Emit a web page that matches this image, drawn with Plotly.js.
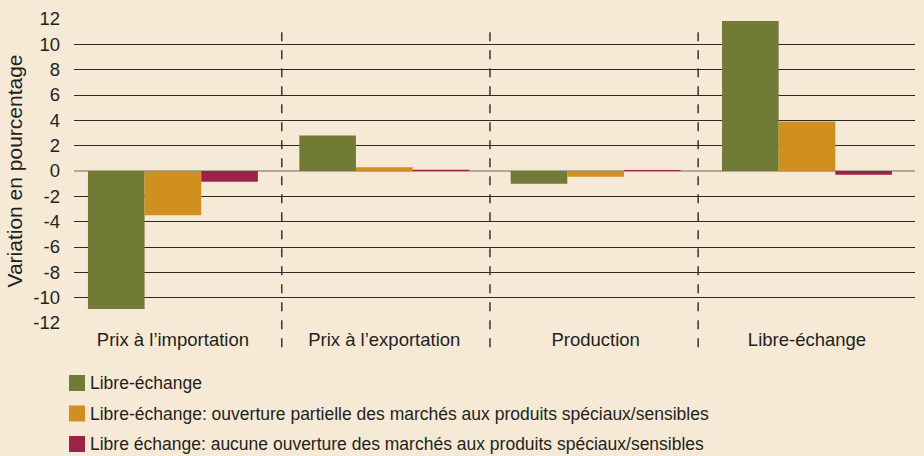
<!DOCTYPE html>
<html>
<head>
<meta charset="utf-8">
<script src="https://cdn.plot.ly/plotly-3.0.1.min.js"></script>
<style>html,body{margin:0;padding:0;background:#f6e9d5;}#chart{width:924px;height:456px;}</style>
</head>
<body>
<div id="chart"></div>
<script>
const categories = ["Prix à l’importation", "Prix à l’exportation", "Production", "Libre-échange"];
const seriesNames = [
  "Libre-échange",
  "Libre-échange: ouverture partielle des marchés aux produits spéciaux/sensibles",
  "Libre échange: aucune ouverture des marchés aux produits spéciaux/sensibles"
];
const libreEchange = [-10.9, 2.8, -1.0, 11.85];
const ouverturePartielle = [-3.5, 0.3, -0.45, 3.9];
const aucuneOuverture = [-0.85, 0.1, 0.08, -0.3];
const yTicks = [-12, -10, -8, -6, -4, -2, 0, 2, 4, 6, 8, 10, 12];
const colors = ["#727b35", "#d09020", "#9b2248"];

const W = 924, H = 456;
const M = {l: 74, r: 9, t: 19, b: 133};
const plotW = W - M.l - M.r, plotH = H - M.t - M.b;

const xIdx = categories.map((c, i) => i);
const allSeries = [libreEchange, ouverturePartielle, aucuneOuverture];
const traces = allSeries.map((vals, k) => ({
  type: "bar",
  x: xIdx,
  y: vals,
  name: seriesNames[k],
  showlegend: false,
  marker: {color: colors[k], line: {width: 0}},
  hoverinfo: "y+name"
}));

const sepColor = "#3a3530";
const shapes = [0.515, 1.5, 2.485].map(xv => ({
  type: "line", xref: "x", yref: "paper", x0: xv, x1: xv, y0: -0.08, y1: 0.985,
  line: {color: sepColor, width: 1.5, dash: "dash"}
}));

// legend drawn as swatches + text below the plot
const legendTop = 375, legendStep = 30.5, sw = 16, legendX = 69;
const px2x = p => (p - M.l) / plotW;
const py2y = p => (H - M.b - p) / plotH;
const annotations = [];
seriesNames.forEach((n, k) => {
  const top = legendTop + k * legendStep;
  shapes.push({
    type: "rect", xref: "paper", yref: "paper",
    x0: px2x(legendX), x1: px2x(legendX + sw), y0: py2y(top + sw), y1: py2y(top),
    fillcolor: colors[k], line: {width: 0}
  });
  annotations.push({
    xref: "paper", yref: "paper", x: px2x(legendX + sw + 3), y: py2y(top + sw / 2),
    xanchor: "left", yanchor: "middle", showarrow: false, text: n,
    font: {size: 17.5, color: "#231f20"}
  });
});

const layout = {
  width: W, height: H,
  paper_bgcolor: "#f6e9d5", plot_bgcolor: "#f6e9d5",
  font: {family: "Liberation Sans, Arial, sans-serif", size: 18, color: "#231f20"},
  margin: M,
  barmode: "group", bargap: 0.196, bargroupgap: 0,
  xaxis: {
    range: [-0.468, 3.511],
    tickvals: xIdx, ticktext: categories, automargin: false,
    showgrid: false, zeroline: false, showline: false, ticks: "",
    tickfont: {size: 18.5}, ticklabelstandoff: 3, fixedrange: true
  },
  yaxis: {
    range: [-12, 12], tickvals: yTicks, ticktext: yTicks.map(String), automargin: false,
    showgrid: true, gridcolor: "#2e2924", gridwidth: 1,
    zeroline: true, zerolinecolor: "#b3a796", zerolinewidth: 2,
    ticks: "", ticklen: 0, tickfont: {size: 18.5}, ticklabelstandoff: 13,
    title: {text: "Variation en pourcentage", font: {size: 21}},
    fixedrange: true
  },
  shapes: shapes,
  annotations: annotations,
  showlegend: false
};

Plotly.newPlot("chart", traces, layout, {displayModeBar: false, staticPlot: true});
</script>
</body>
</html>
